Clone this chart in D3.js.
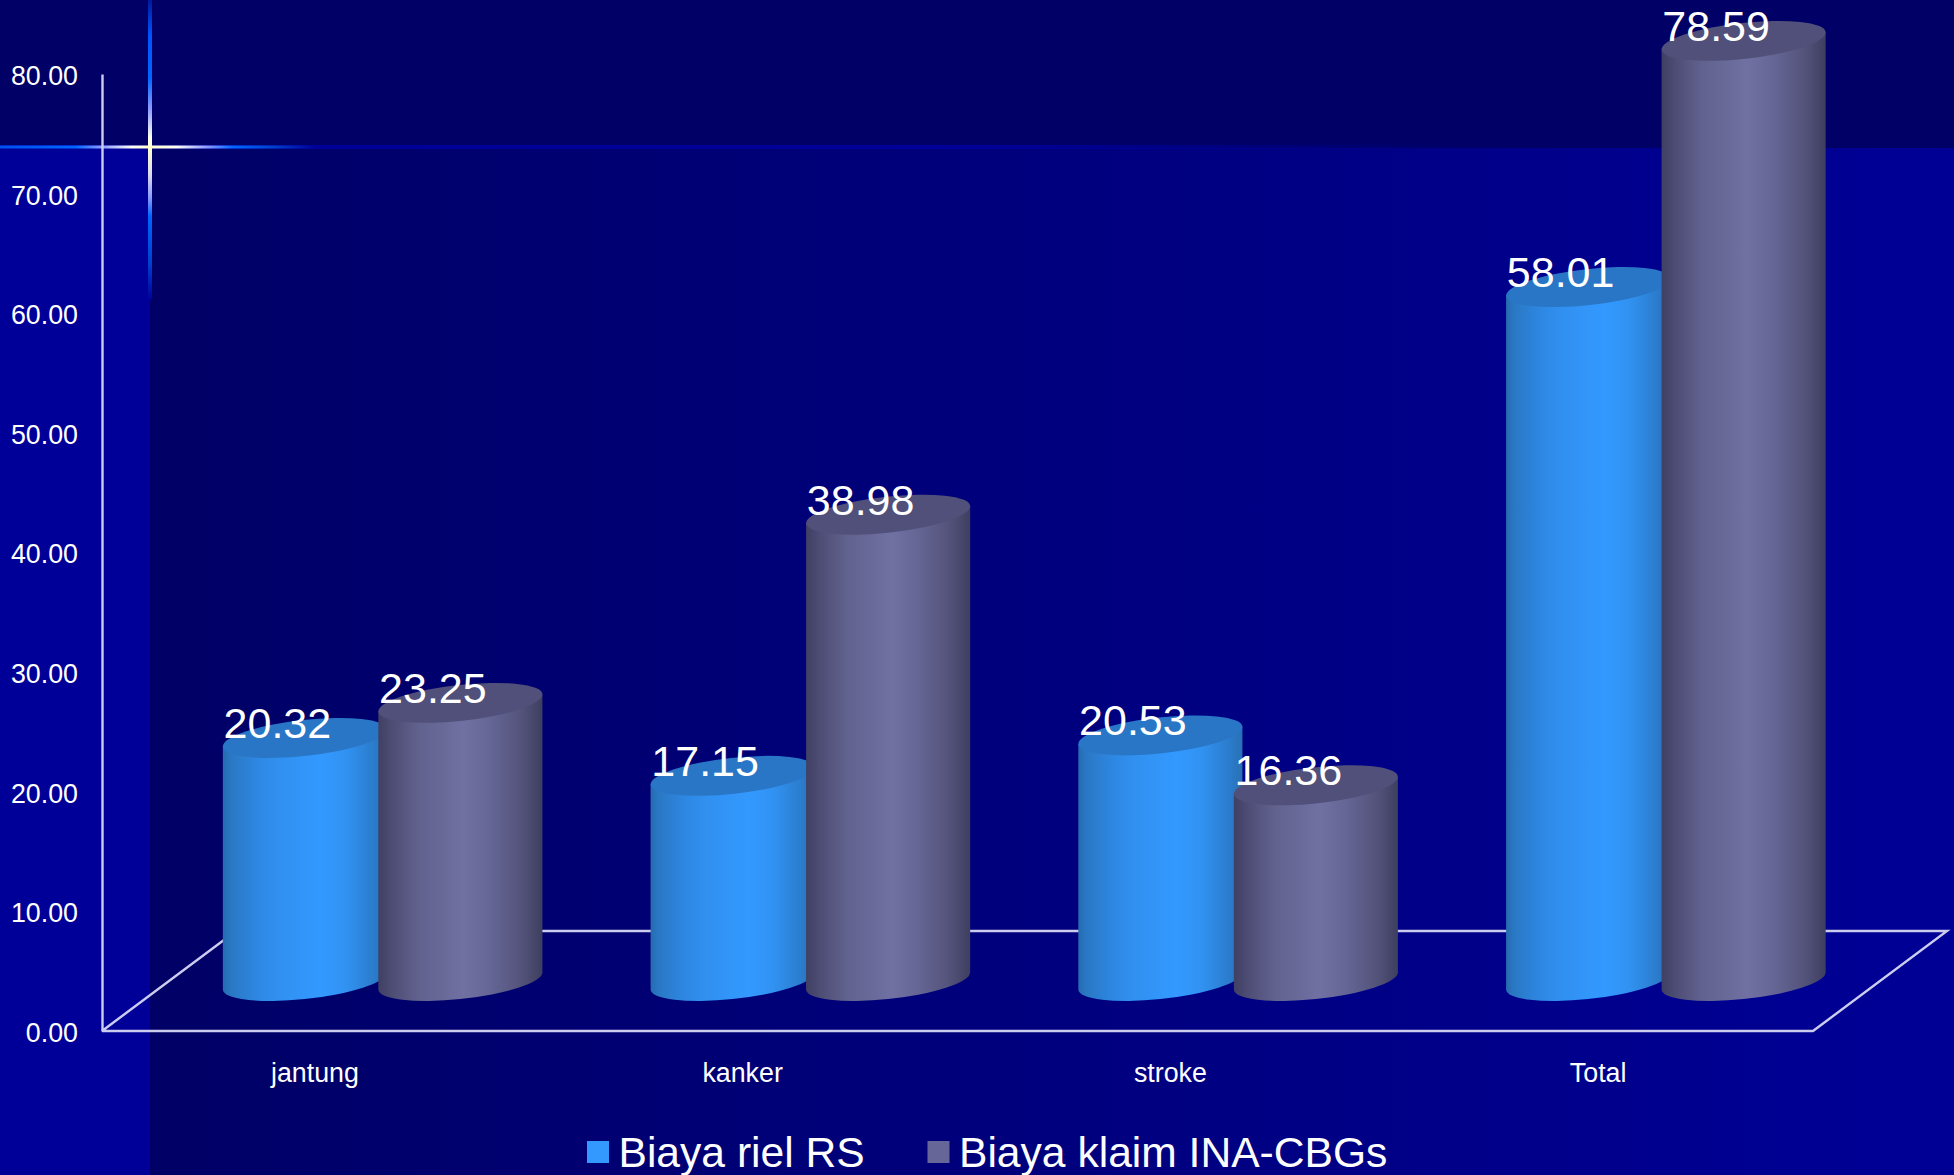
<!DOCTYPE html>
<html><head><meta charset="utf-8">
<script src="https://cdn.jsdelivr.net/npm/d3@7"></script>
<style>html,body{margin:0;padding:0;background:#000099;overflow:hidden}svg{display:block}text{font-family:"Liberation Sans",Arial,sans-serif;fill:#fff}</style>
</head><body>
<svg id="c" width="1954" height="1175"></svg>
<script>
const categories = ["jantung", "kanker", "stroke", "Total"];
const seriesNames = ["Biaya riel RS", "Biaya klaim INA-CBGs"];
const biayaRiel = [20.32, 17.15, 20.53, 58.01];
const biayaKlaim = [23.25, 38.98, 16.36, 78.59];
const yTicks = [0, 10, 20, 30, 40, 50, 60, 70, 80];
const seriesColors = ["#3399ff", "#666699"];
const topColors = ["#2a76c6", "#50507a"];
const bodyStops = [
  [[0,"#256cb0"],[.05,"#2a78c4"],[.22,"#2e88e4"],[.34,"#3190f0"],[.6,"#3399ff"],[.75,"#3192f2"],[.92,"#2b7ccc"],[1,"#2870b4"]],
  [[0,"#404064"],[.08,"#4c4c74"],[.25,"#62628f"],[.52,"#7070a2"],[.68,"#666696"],[.88,"#525279"],[1,"#3e3e60"]]
];
const W = 1954, H = 1175, bandY = 148, stripX = 150, flareY = 147;
const depthX = 134, depthY = 100;
const A = 82.5, B = 18, TILT = -6.2;

const svg = d3.select("#c");
const defs = svg.append("defs");
const x = d3.scaleBand().domain(categories).range([101, 1812]);
const x1 = d3.scaleBand().domain(seriesNames).range([-87.75, 223.25]);
const y = d3.scaleLinear().domain([0, 80]).range([1031, 74]);

function grad(id, stops, horiz){
  const g = defs.append("linearGradient").attr("id", id)
    .attr("x1",0).attr("y1",0).attr("x2",horiz?1:0).attr("y2",horiz?0:1);
  stops.forEach(s => g.append("stop").attr("offset", s[0]).attr("stop-color", s[1]).attr("stop-opacity", s[2]===undefined?1:s[2]));
}
grad("bg", [[0,"#000066"],[1,"#000096"]], true);
bodyStops.forEach((s,i)=>grad("cyl"+i, s, true));
grad("flareH", [[0,"#0050f0"],[.24,"#0066ff"],[.32,"#8899ff"],[.42,"#fffff0"],[.48,"#ffffcc"],[.56,"#fffff0"],[.66,"#8899ff"],[.74,"#0066ff"],[.86,"#0044cc"],[1,"#000099"]], true);
grad("flareV", [[0,"#001a99"],[.12,"#0055ff"],[.26,"#0066ff"],[.36,"#8899ff"],[.46,"#fffff0"],[.49,"#ffffcc"],[.58,"#ddddee"],[.66,"#8899ff"],[.72,"#0066ff"],[.88,"#0040cc"],[1,"#000099"]], false);
grad("rule", [[0,"#000099",1],[.5,"#000099",1],[.75,"#000099",0],[1,"#000099",0]], true);

// background
svg.append("rect").attr("width",W).attr("height",H).attr("fill","#000099");
svg.append("rect").attr("x",stripX).attr("y",bandY).attr("width",W-stripX).attr("height",H-bandY).attr("fill","url(#bg)");
svg.append("rect").attr("width",W).attr("height",bandY).attr("fill","#000066");
svg.append("rect").attr("x",0).attr("y",flareY-2).attr("width",W).attr("height",4).attr("fill","url(#rule)");
svg.append("rect").attr("x",0).attr("y",flareY-1.5).attr("width",stripX*2.1).attr("height",3).attr("fill","url(#flareH)");
svg.append("rect").attr("x",stripX-2).attr("y",0).attr("width",4).attr("height",300).attr("fill","url(#flareV)");

// floor
const lineCol = "#ccccee";
const x0 = x.range()[0]+1, x9 = x.range()[1]+1, y0 = y(0);
svg.append("path").attr("fill","none").attr("stroke",lineCol).attr("stroke-width",2.4)
  .attr("d", d3.line()([[x0,y0],[x9,y0],[x9+depthX,y0-depthY],[x0+depthX,y0-depthY],[x0,y0]]));

// axes
const yAxis = svg.append("g").attr("transform",`translate(${x0},0)`)
  .call(d3.axisLeft(y).tickValues(yTicks).tickFormat(d3.format(".2f")).tickSize(0).tickPadding(24));
yAxis.select(".domain").attr("stroke",lineCol).attr("stroke-width",2.4);
yAxis.selectAll("text").attr("font-size",26.8).attr("dy","0.39em").style("font-family",'"Liberation Sans"').attr("fill","#fff");
const xAxis = svg.append("g").attr("transform",`translate(0,1073)`)
  .call(d3.axisBottom(x).tickSize(0).tickPadding(0));
xAxis.select(".domain").remove();
xAxis.selectAll("text").attr("font-size",26.8).attr("y",0).attr("dy","0.34em").style("font-family",'"Liberation Sans"').attr("fill","#fff");

// cylinders
const th = TILT*Math.PI/180, c = Math.cos(th), s = Math.sin(th);
const extX = Math.sqrt(A*A*c*c+B*B*s*s);
const extY = (A*A-B*B)*s*c/extX;
const seriesValues = [biayaRiel, biayaKlaim];
const rows = [];
categories.forEach((cat,i)=>seriesNames.forEach((n,j)=>rows.push({cat,n,j,v:seriesValues[j][i]})));
const cy = svg.append("g").selectAll("g").data(rows).join("g");
const cxOf = d => x(d.cat)+x.bandwidth()/2+x1(d.n)+x1.bandwidth()/2;
const baseY = y(0)-depthY/2;
const topY = d => y(d.v)-depthY/2;
cy.append("path").attr("fill",d=>`url(#cyl${d.j})`).attr("d",d=>{
  const X = cxOf(d), t = topY(d);
  return `M${X-extX},${t-extY}L${X-extX},${baseY-extY}A${A},${B},${TILT},0,0,${X+extX},${baseY+extY}L${X+extX},${t+extY}Z`;
});
cy.append("ellipse").attr("rx",A).attr("ry",B).attr("fill",d=>topColors[d.j])
  .attr("transform",d=>`translate(${cxOf(d)},${topY(d)}) rotate(${TILT})`);
// labels on top
svg.append("g").selectAll("text").data(rows).join("text")
  .attr("x",d=>cxOf(d)-27.5).attr("y",d=>topY(d)).attr("text-anchor","middle")
  .attr("font-size",43).text(d=>d3.format(".2f")(d.v));

// legend
const legendX = d3.scaleOrdinal().domain(seriesNames).range([587, 927.5]);
const lg = svg.append("g").selectAll("g").data(seriesNames).join("g")
  .attr("transform",d=>`translate(${legendX(d)},0)`);
lg.append("rect").attr("y",1141).attr("width",22).attr("height",22).attr("fill",(d,i)=>seriesColors[i]);
lg.append("text").attr("x",31.5).attr("y",1167).attr("font-size",42.6).text(d=>d);
</script>
</body></html>
